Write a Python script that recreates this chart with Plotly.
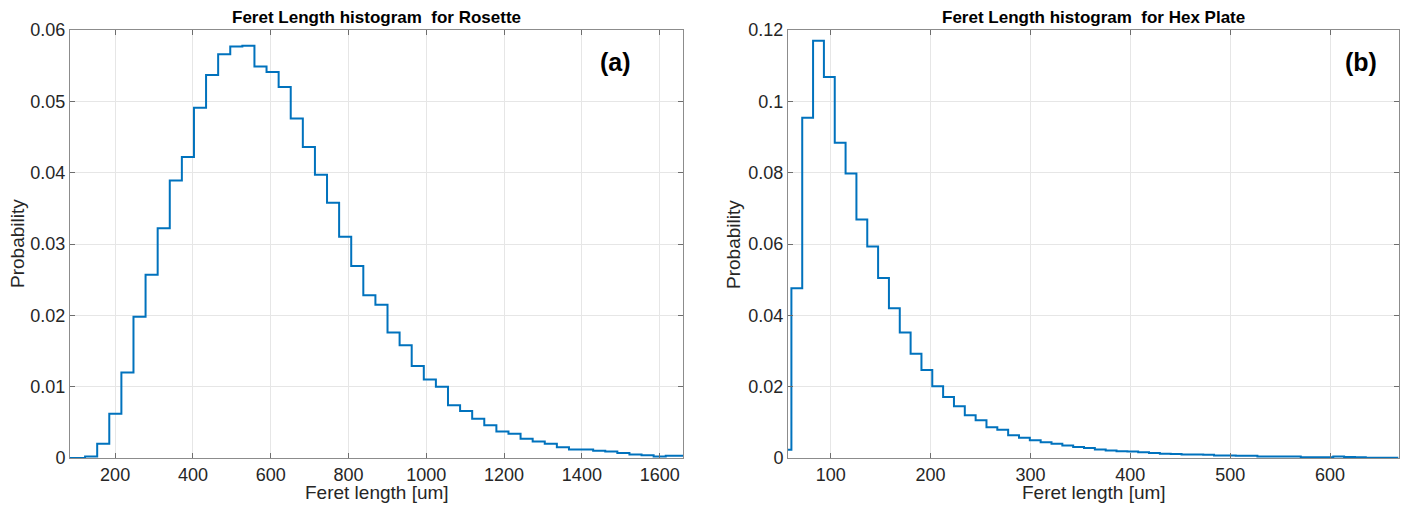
import numpy as np
import plotly.graph_objects as go
from plotly.subplots import make_subplots

# ---- data ----
rosette_bin_start = 60.6
rosette_bin_width = 31.1
rosette_prob = [0.0, 0.0, 0.0002, 0.0020, 0.0062, 0.0120, 0.0198, 0.0257, 0.0322, 0.0389,
                0.0422, 0.0491, 0.0537, 0.0566, 0.0577, 0.0578, 0.0549, 0.0541, 0.0520, 0.0476,
                0.0436, 0.0397, 0.0358, 0.0310, 0.0269, 0.0228, 0.0215, 0.0176, 0.0158, 0.0129,
                0.0110, 0.0100, 0.0074, 0.0066, 0.0055, 0.0046, 0.0037, 0.0034, 0.0027, 0.0023,
                0.0020, 0.0015, 0.0012, 0.0012, 0.0010, 0.0009, 0.0007, 0.0005, 0.0004, 0.0002,
                0.0003, 0.0003]

hex_bin_start = 49.85
hex_bin_width = 10.85
hex_prob = [0.0023, 0.0476, 0.0954, 0.1170, 0.1068, 0.0884, 0.0798, 0.0669, 0.0593, 0.0505,
            0.0420, 0.0352, 0.0292, 0.0247, 0.0201, 0.0171, 0.0145, 0.0120, 0.0106, 0.0086,
            0.0079, 0.0064, 0.0057, 0.0050, 0.0044, 0.0040, 0.0035, 0.0031, 0.0028, 0.0024,
            0.0021, 0.0019, 0.0018, 0.0016, 0.0014, 0.0012, 0.0011, 0.0010, 0.0010, 0.0009,
            0.0007, 0.0007, 0.0006, 0.0006, 0.0004, 0.0004, 0.0004, 0.0004, 0.0002, 0.0002,
            0.0002, 0.0004, 0.0003, 0.0002, 0.0001, 0.0001, 0.0001]

titles = ["Feret Length histogram  for Rosette", "Feret Length histogram  for Hex Plate"]
panel_labels = ["(a)", "(b)"]
x_label = "Feret length [um]"
y_label = "Probability"
x_ranges = [[84, 1660], [57.3, 669]]
y_ranges = [[0, 0.06], [0, 0.12]]
x_dticks = [200, 100]
y_dticks = [0.01, 0.02]
label_x = [1486, 631]

FONT = "Arial, Liberation Sans, sans-serif"
LINE = "#0072BD"
TXT = "#262626"

fig = make_subplots(rows=1, cols=2, horizontal_spacing=0.08)


def stairs(start, width, vals):
    edges = start + width * np.arange(len(vals) + 1)
    y = list(vals) + [vals[-1]]
    return edges, y


for i, (s, w, v) in enumerate([(rosette_bin_start, rosette_bin_width, rosette_prob),
                               (hex_bin_start, hex_bin_width, hex_prob)]):
    ex, ey = stairs(s, w, v)
    fig.add_trace(go.Scatter(x=ex, y=ey, mode="lines", line=dict(color=LINE, width=2, shape="hv"),
                             showlegend=False, hoverinfo="skip", cliponaxis=True), row=1, col=i + 1)

# page body has an 8px margin, so positions are offset by 8px
OFF = 8
L, T = 70 - OFF, 30 - OFF
W, H = 1410, 515
R = W - (1399 - OFF)
B = H - (458 - OFF)
pw = W - L - R
d1 = (683 - OFF - L) / pw
d2 = (788 - OFF - L) / pw

axis_common = dict(showline=True, mirror="ticks", linecolor="#8c8c8c", linewidth=1,
                   ticks="inside", ticklen=5, tickcolor="#6e6e6e", automargin=False,
                   showgrid=True, gridcolor="#e6e6e6", gridwidth=1, zeroline=False,
                   tickfont=dict(family=FONT, size=18, color=TXT))

for i in range(2):
    xa = "xaxis" if i == 0 else "xaxis2"
    ya = "yaxis" if i == 0 else "yaxis2"
    fig.layout[xa].update(domain=[0, d1] if i == 0 else [d2, 1], range=x_ranges[i],
                          dtick=x_dticks[i], tick0=0, **axis_common)
    fig.layout[ya].update(range=y_ranges[i], dtick=y_dticks[i], tick0=0, **axis_common)

annotations = []
doms = [(0, d1), (d2, 1)]
for i in range(2):
    c = (doms[i][0] + doms[i][1]) / 2
    annotations.append(dict(text="<b>" + titles[i] + "</b>", xref="paper", yref="paper",
                            x=c, y=1.0, yshift=1, xanchor="center", yanchor="bottom",
                            showarrow=False, font=dict(family=FONT, size=17, color="#000000")))
    annotations.append(dict(text=x_label, xref="paper", yref="paper", x=c, y=0, yshift=-34,
                            xanchor="center", yanchor="middle", showarrow=False,
                            font=dict(family=FONT, size=19, color=TXT)))
    annotations.append(dict(text=y_label, xref="paper", yref="paper", x=doms[i][0], y=0.5,
                            xshift=-53 if i == 0 else -55, textangle=-90,
                            xanchor="center", yanchor="middle", showarrow=False,
                            font=dict(family=FONT, size=19, color=TXT)))
    annotations.append(dict(text="<b>" + panel_labels[i] + "</b>", xref="x" if i == 0 else "x2",
                            yref="paper", x=label_x[i], y=0.925,
                            xanchor="center", yanchor="middle", showarrow=False,
                            font=dict(family=FONT, size=25, color="#000000")))

fig.update_layout(width=W, height=H, margin=dict(l=L, r=R, t=T, b=B),
                  paper_bgcolor="white", plot_bgcolor="white",
                  annotations=annotations, font=dict(family=FONT, color=TXT))

fig.write_html("out.html")
